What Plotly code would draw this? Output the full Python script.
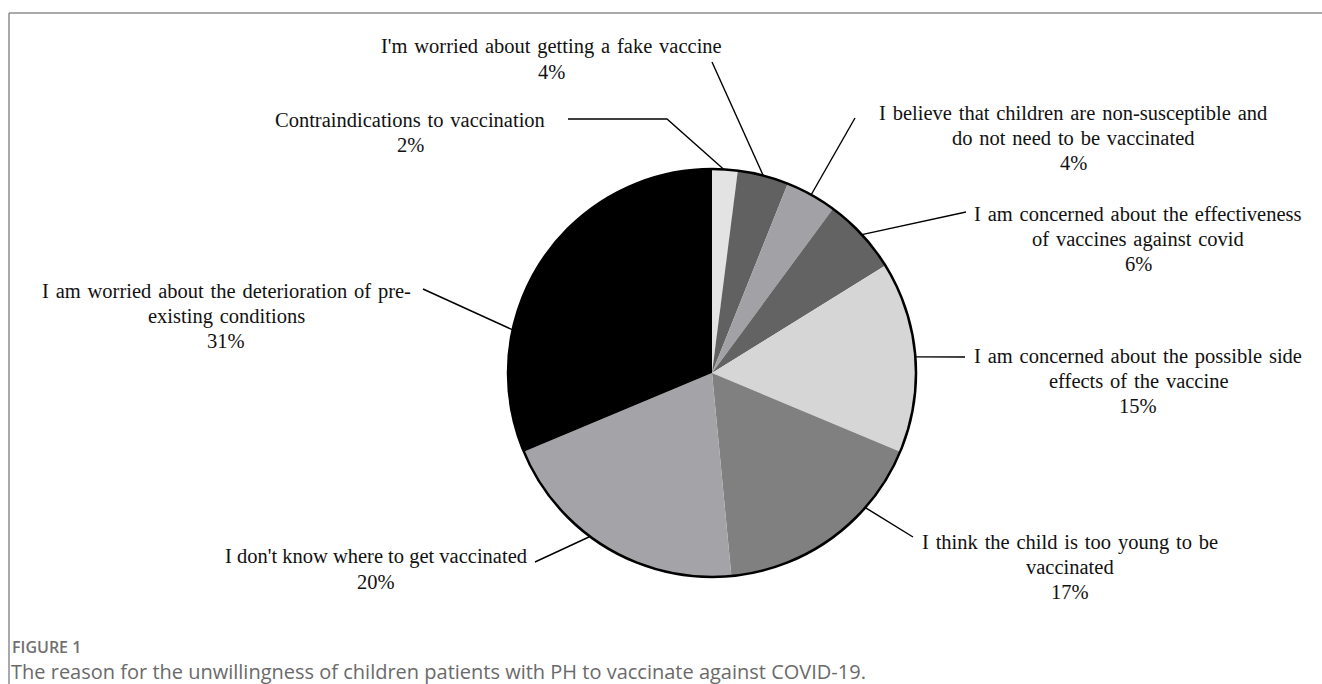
import math
import plotly.graph_objects as go

# Reasons for not vaccinating, clockwise from 12 o'clock
reasons = [
    "Contraindications to vaccination",
    "I'm worried about getting a fake vaccine",
    "I believe that children are non-susceptible and<br>do not need to be vaccinated",
    "I am concerned about the effectiveness<br>of vaccines against covid",
    "I am concerned about the possible side<br>effects of the vaccine",
    "I think the child is too young to be<br>vaccinated",
    "I don't know where to get vaccinated",
    "I am worried about the deterioration of pre-<br>existing conditions",
]
percent = [2, 4, 4, 6, 15, 17, 20, 31]
slice_colors = ["#e3e3e3", "#616161", "#a2a2a6", "#636363",
                "#d6d6d6", "#808080", "#a4a4a8", "#000000"]

# Canvas / pie geometry (pixels)
W, H = 1322, 684
CX, CY, R = 712, 373, 204

# Label block centres, leader-line outer ends, and where along each slice the line attaches
label_pos = [(410, 132), (551, 59), (1073, 138), (1138, 239),
             (1138, 381), (1070, 567), (376, 569), (226, 316)]
leader_end = [(568, 119), (712, 62), (855, 118), (966, 212),
              (965, 357), (913, 537), (535, 562), (423, 289)]
leader_elbow = {0: (667, 119)}
attach_frac = [0.45, 0.5, 0.5, 0.5, 0.5, 0.3, 0.58, 0.31]
# per-label word gap: most labels are set loosely, the bottom-left one normally
word_gap = ["\u2004", "\u2004", "\u2004", "\u2004", "\u2004", "\u2004", " ", "\u2004"]

LINE_STEP = 25          # px between label lines

fig = go.Figure()

fig.add_trace(go.Pie(
    labels=[r.replace("<br>", " ") for r in reasons],
    values=percent,
    sort=False,
    direction="clockwise",
    rotation=0,
    marker=dict(colors=slice_colors, line=dict(width=0)),
    textinfo="none",
    hoverinfo="label+value",
    showlegend=False,
    domain=dict(x=[(CX - R) / W, (CX + R) / W],
                y=[1 - (CY + R) / H, 1 - (CY - R) / H]),
))

# invisible pixel-space axes for overlay shapes
fig.update_xaxes(range=[0, W], visible=False, fixedrange=True)
fig.update_yaxes(range=[H, 0], visible=False, fixedrange=True)
fig.add_trace(go.Scatter(x=[0], y=[0], mode="markers",
                         marker=dict(opacity=0), hoverinfo="skip", showlegend=False))

shapes = []
# outer rim of the pie
shapes.append(dict(type="circle", xref="x", yref="y",
                   x0=CX - R, x1=CX + R, y0=CY - R, y1=CY + R,
                   line=dict(color="black", width=2.5)))

total = sum(percent)
start = 0.0
for i, v in enumerate(percent):
    span = 360.0 * v / total
    ang = math.radians(start + attach_frac[i] * span)
    ex = CX + R * math.sin(ang)
    ey = CY - R * math.cos(ang)
    start += span
    pts = [leader_end[i]]
    if i in leader_elbow:
        pts.append(leader_elbow[i])
    pts.append((ex, ey))
    path = "M " + " L ".join(f"{px:.2f},{py:.2f}" for px, py in pts)
    shapes.append(dict(type="path", xref="x", yref="y", path=path,
                       line=dict(color="black", width=1.4)))

# frame lines (top and left)
shapes.append(dict(type="line", xref="x", yref="y", x0=9, x1=W, y0=13, y1=13,
                   line=dict(color="#8c8c8c", width=1.5)))
shapes.append(dict(type="line", xref="x", yref="y", x0=9, x1=9, y0=13, y1=H,
                   line=dict(color="#8c8c8c", width=1.5)))

annotations = []
for i, txt in enumerate(reasons):
    lx, ly = label_pos[i]
    lines = txt.split("<br>") + [f"{percent[i]}%"]
    n = len(lines)
    for k, line in enumerate(lines):
        annotations.append(dict(
            x=lx, y=ly + (k - (n - 1) / 2) * LINE_STEP,
            xref="x", yref="y", showarrow=False,
            xanchor="center", yanchor="middle", align="center",
            text=line.replace(" ", word_gap[i]),
            font=dict(family="Liberation Serif", size=20.5, color="#111111"),
        ))

annotations.append(dict(
    x=11, y=647, xref="x", yref="y", showarrow=False,
    xanchor="left", yanchor="middle", borderpad=0, text="FIGURE 1",
    font=dict(family="Open Sans", size=16, color="#707070", weight=600),
))
annotations.append(dict(
    x=10, y=671, xref="x", yref="y", showarrow=False,
    xanchor="left", yanchor="middle", borderpad=0,
    text="The reason for the unwillingness of children patients with PH to vaccinate against COVID-19.",
    font=dict(family="Open Sans", size=20, color="#6a6a6a"),
))

fig.update_layout(
    width=W, height=H,
    margin=dict(l=0, r=0, t=0, b=0),
    paper_bgcolor="white", plot_bgcolor="white",
    xaxis=dict(domain=[0, 1]), yaxis=dict(domain=[0, 1]),
    shapes=shapes, annotations=annotations,
)

fig.write_html("out.html", config={"displayModeBar": False})
